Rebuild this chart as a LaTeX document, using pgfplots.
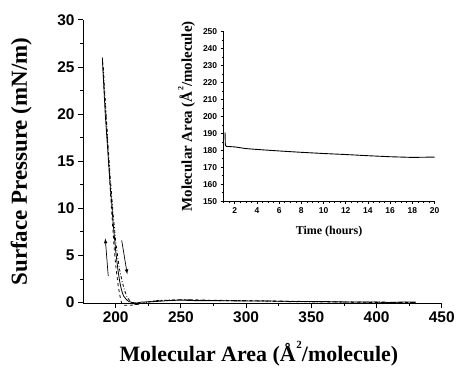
\documentclass[border=0pt]{standalone}
\usepackage{pgfplots}
\pgfplotsset{compat=1.18}
\usepackage{fontspec}
\setmainfont{Liberation Serif}
\setsansfont{Liberation Sans}
\newcommand{\sq}[1]{\kern0.03em\raisebox{0.58em}{\fontsize{#1}{#1}\selectfont 2}}
\begin{document}
\begin{tikzpicture}[x=1pt,y=1pt]
\path (0,0) rectangle (458,373);
\begin{axis}[
  at={(83.3pt,69pt)}, anchor=south west,
  scale only axis, width=359.7pt, height=284pt,
  xmin=175, xmax=450, ymin=-0.07, ymax=30,
  axis lines=left, axis line style={-, line width=1.1pt},
  clip=false,
  xtick={200,250,...,450}, ytick={0,5,...,30},
  minor xtick={225,275,...,425}, minor ytick={2.5,7.5,...,27.5},
  tick align=outside, major tick length=5pt, minor tick length=3pt,
  every tick/.style={black, line width=0.9pt},
  tick label style={font=\sffamily\bfseries\fontsize{15.5}{16}\selectfont},
  /pgf/number format/assume math mode=true,
  xlabel={\bfseries\fontsize{22}{24}\selectfont Molecular Area (Å\sq{11}/molecule)},
  ylabel={\bfseries\fontsize{23}{24}\selectfont Surface Pressure (mN/m)},
  xlabel style={at={(axis description cs:0.49,0)}, anchor=north, yshift=-35pt},
  ylabel style={at={(axis description cs:0,0.5)}, anchor=south, yshift=48pt},
]
\addplot[black, line width=0.8pt] coordinates {
(189.8,26) (190.5,24) (192,20) (193.5,17) (194.5,15) (196,12) (197,10.5) (198,8.5) (199,7) (200,5.5) (201,4.3) (202,3.2) (203,2.3) (204,1.6) (205,1.1) (206,0.7) (208,0.35) (210,0.1) (213,0) (216,-0.05) (220,0.05) (230,0.1) (240,0.2) (250,0.25) (260,0.2) (280,0.2) (300,0.15) (320,0.15) (340,0.1) (360,0.1) (380,0.05) (400,0.05) (410,0) (420,0.05) (430,0.05)};
\addplot[black, line width=0.8pt, dashed] coordinates {
(190,25.5) (191,23) (193,19) (195,14) (196.5,10.5) (198,7.5) (199,5.5) (200,4) (201,2.8) (202,1.7) (203,0.9) (204,0.2) (205,-0.2) (207,-0.3) (210,-0.3) (215,-0.25) (220,-0.1) (225,0.05) (230,0.15) (250,0.3) (270,0.25) (300,0.2) (350,0.1) (400,0) (430,0)};
\addplot[black, line width=0.8pt, dash dot] coordinates {
(190.5,25) (192,21.5) (194,17) (196,13) (198,9.5) (200,6.5) (202,4.4) (203,3.5) (205,2.2) (207,1.2) (209,0.5) (212,0) (215,-0.2) (220,-0.1) (230,0.2) (250,0.3) (280,0.2) (300,0.2) (330,0.1) (360,0.05) (400,0.05) (430,0)};
\addplot[black, line width=0.7pt, -latex] coordinates {(194.3,2.8) (192.0,6.8)};
\addplot[black, line width=0.7pt, -latex] coordinates {(204.6,6.6) (208.9,3.0)};
\end{axis}
\begin{axis}[
  at={(224.3pt,171.3pt)}, anchor=south west,
  scale only axis, width=211.4pt, height=170pt,
  xmin=1, xmax=20, ymin=150, ymax=250,
  axis lines=left, axis line style={-, line width=0.9pt},
  xtick={2,4,...,20}, ytick={150,160,...,250},
  minor xtick={1,1.5,...,20}, minor ytick={155,165,...,245},
  tick align=outside, major tick length=3pt, minor tick length=1.8pt,
  every tick/.style={black, line width=0.6pt},
  tick label style={font=\sffamily\bfseries\fontsize{8.5}{9}\selectfont},
  /pgf/number format/assume math mode=true,
  xlabel={\bfseries\fontsize{12}{13}\selectfont Time (hours)},
  ylabel={\bfseries\fontsize{15}{16}\selectfont Molecular Area (Å\sq{8}/molecule)},
  xlabel style={yshift=-6pt},
  ylabel style={yshift=1pt},
]
\addplot[black, line width=0.9pt] coordinates {
(1.12,190.5) (1.15,183) (1.25,182.3) (2,182) (3,181) (4,180.5) (6,179.6) (8,178.8) (10,178.1) (12,177.5) (14,176.8) (16,176.2) (18,175.8) (20,176)};
\end{axis}
\end{tikzpicture}
\end{document}
